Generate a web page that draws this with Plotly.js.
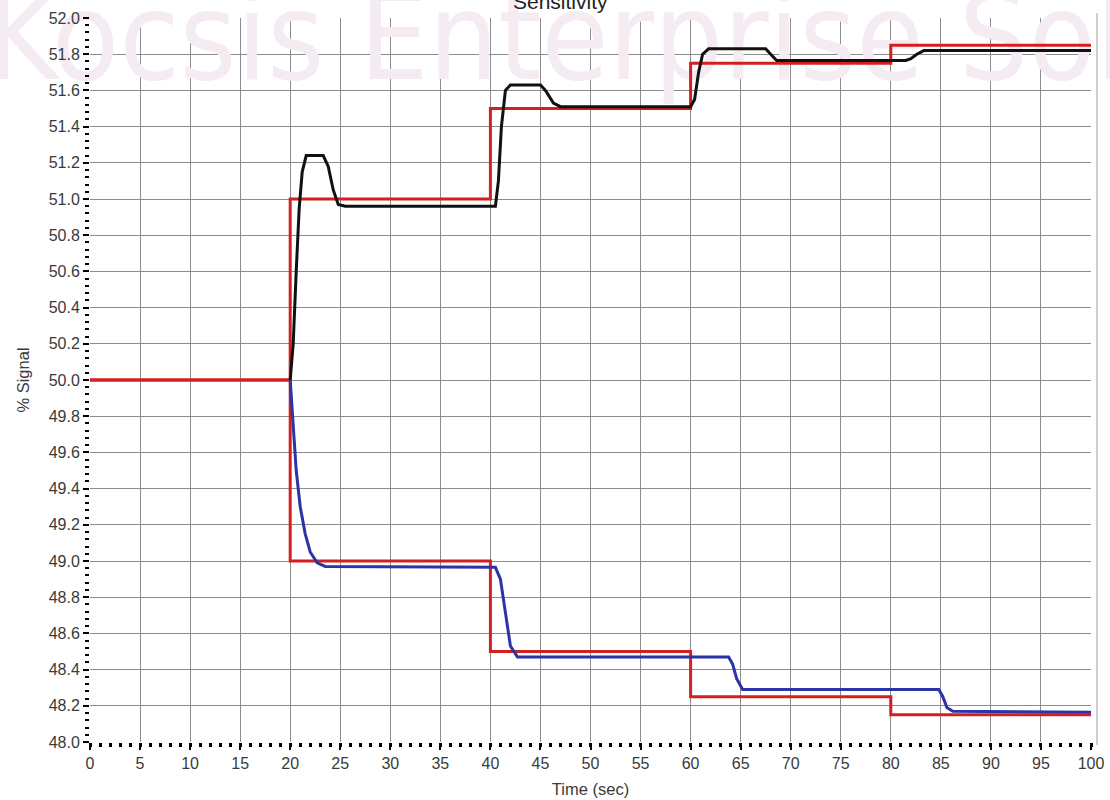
<!DOCTYPE html>
<html>
<head>
<meta charset="utf-8">
<script src="https://cdn.plot.ly/plotly-3.0.1.min.js"></script>
<style>html,body{margin:0;padding:0;background:#fff;}#chart{width:1110px;height:800px;}</style>
</head>
<body>
<div id="chart"></div>
<script>
// Setpoint steps (red), value held from each x until the next
const stepX = [0, 20, 40, 60, 80, 100];
const upperSetpoint = [50.0, 51.0, 51.5, 51.75, 51.85, 51.85];
const lowerSetpoint = [50.0, 49.0, 48.5, 48.25, 48.15, 48.15];

// Upper response (black)
const upperTime = [20, 20.3, 20.6, 20.9, 21.2, 21.6, 23.3, 23.8, 24.3, 24.8, 25.5, 40.5, 40.8, 41.1, 41.5, 42, 45, 45.5, 46.3, 47, 60, 60.4, 60.8, 61.2, 61.8, 67.5, 68, 68.6, 81.5, 82, 82.6, 83.3, 100];
const upperSignal = [50.0, 50.2, 50.6, 50.95, 51.15, 51.24, 51.24, 51.18, 51.05, 50.97, 50.96, 50.96, 51.1, 51.4, 51.6, 51.63, 51.63, 51.6, 51.53, 51.51, 51.51, 51.55, 51.7, 51.8, 51.83, 51.83, 51.8, 51.765, 51.765, 51.775, 51.8, 51.82, 51.82];

// Lower response (blue)
const lowerTime = [20, 20.3, 20.6, 21.0, 21.5, 22.0, 22.7, 23.5, 40.5, 41, 41.5, 42, 42.7, 63.8, 64.2, 64.6, 65.2, 84.8, 85.2, 85.6, 86.2, 100];
const lowerSignal = [50.0, 49.75, 49.5, 49.3, 49.15, 49.05, 48.99, 48.97, 48.965, 48.9, 48.7, 48.53, 48.47, 48.47, 48.43, 48.35, 48.29, 48.29, 48.25, 48.19, 48.17, 48.165];

const xTicks = [0,5,10,15,20,25,30,35,40,45,50,55,60,65,70,75,80,85,90,95,100];
const yTicks = [48.0,48.2,48.4,48.6,48.8,49.0,49.2,49.4,49.6,49.8,50.0,50.2,50.4,50.6,50.8,51.0,51.2,51.4,51.6,51.8,52.0];

const titleText = 'Sensitivity';
const watermarkText = 'Kocsis Enterprise Solutions';

const red = '#d31f1f';
const fam = 'Liberation Sans, Arial, sans-serif';
const tickFont = {family: fam, size: 16, color: '#3a3a3a'};

const traces = [
  // faint background watermark, drawn beneath the data lines
  {x: [63.4], y: [51.83], mode: 'text', text: [watermarkText], textposition: 'middle center', cliponaxis: false, hoverinfo: 'skip',
   textfont: {family: 'DejaVu Sans Condensed, Liberation Sans Narrow, sans-serif', size: 122, color: '#f4ebf3'}},
  {x: stepX, y: upperSetpoint, mode: 'lines', line: {shape: 'hv', color: red, width: 3}, hoverinfo: 'skip'},
  {x: stepX, y: lowerSetpoint, mode: 'lines', line: {shape: 'hv', color: red, width: 3}, hoverinfo: 'skip'},
  {x: upperTime, y: upperSignal, mode: 'lines', line: {color: '#111111', width: 3}, hoverinfo: 'skip'},
  {x: lowerTime, y: lowerSignal, mode: 'lines', line: {color: '#2b33a6', width: 3}, hoverinfo: 'skip'}
];

const layout = {
  width: 1110, height: 800,
  margin: {l: 90, r: 19, t: 18, b: 58},
  paper_bgcolor: '#ffffff', plot_bgcolor: 'rgba(0,0,0,0)',
  showlegend: false,
  font: {family: fam, size: 15, color: '#3a3a3a'},
  xaxis: {
    range: [0, 100], tickmode: 'array', tickvals: xTicks, ticktext: xTicks.map(String),
    showgrid: true, gridcolor: '#8c8c8c', gridwidth: 1, zeroline: false, showline: false,
    ticks: 'outside', ticklen: 7, tickwidth: 2, tickcolor: '#000',
    minor: {dtick: 1, ticks: 'outside', ticklen: 4, tickwidth: 3, tickcolor: '#000', showgrid: false},
    tickfont: tickFont,
    title: {text: 'Time (sec)', font: {family: fam, size: 16.5, color: '#3a3a3a'}, standoff: 12}
  },
  yaxis: {
    range: [48.0, 52.0], tickmode: 'array', tickvals: yTicks, ticktext: yTicks.map(v => v.toFixed(1)),
    showgrid: true, gridcolor: '#8c8c8c', gridwidth: 1, zeroline: false, showline: false,
    ticks: 'outside', ticklen: 6, tickwidth: 2, tickcolor: '#000',
    minor: {dtick: 0.04, tick0: 48, ticks: 'outside', ticklen: 4, tickwidth: 2, tickcolor: '#000', showgrid: false},
    tickfont: tickFont,
    title: {text: '% Signal', font: {family: fam, size: 16.5, color: '#3a3a3a'}, standoff: 14}
  },
  shapes: [
    {type: 'line', xref: 'paper', yref: 'paper', x0: 1.006, x1: 1.006, y0: -0.004, y1: 1.007, line: {color: '#d0d0d0', width: 2}}
  ],
  annotations: [
    {text: titleText, xref: 'paper', yref: 'paper', x: 0.47, y: 1, xanchor: 'center', yanchor: 'bottom', yshift: 3, showarrow: false,
     font: {family: fam, size: 21, color: '#222'}}
  ]
};

Plotly.newPlot('chart', traces, layout, {displayModeBar: false, staticPlot: true});
</script>
</body>
</html>
